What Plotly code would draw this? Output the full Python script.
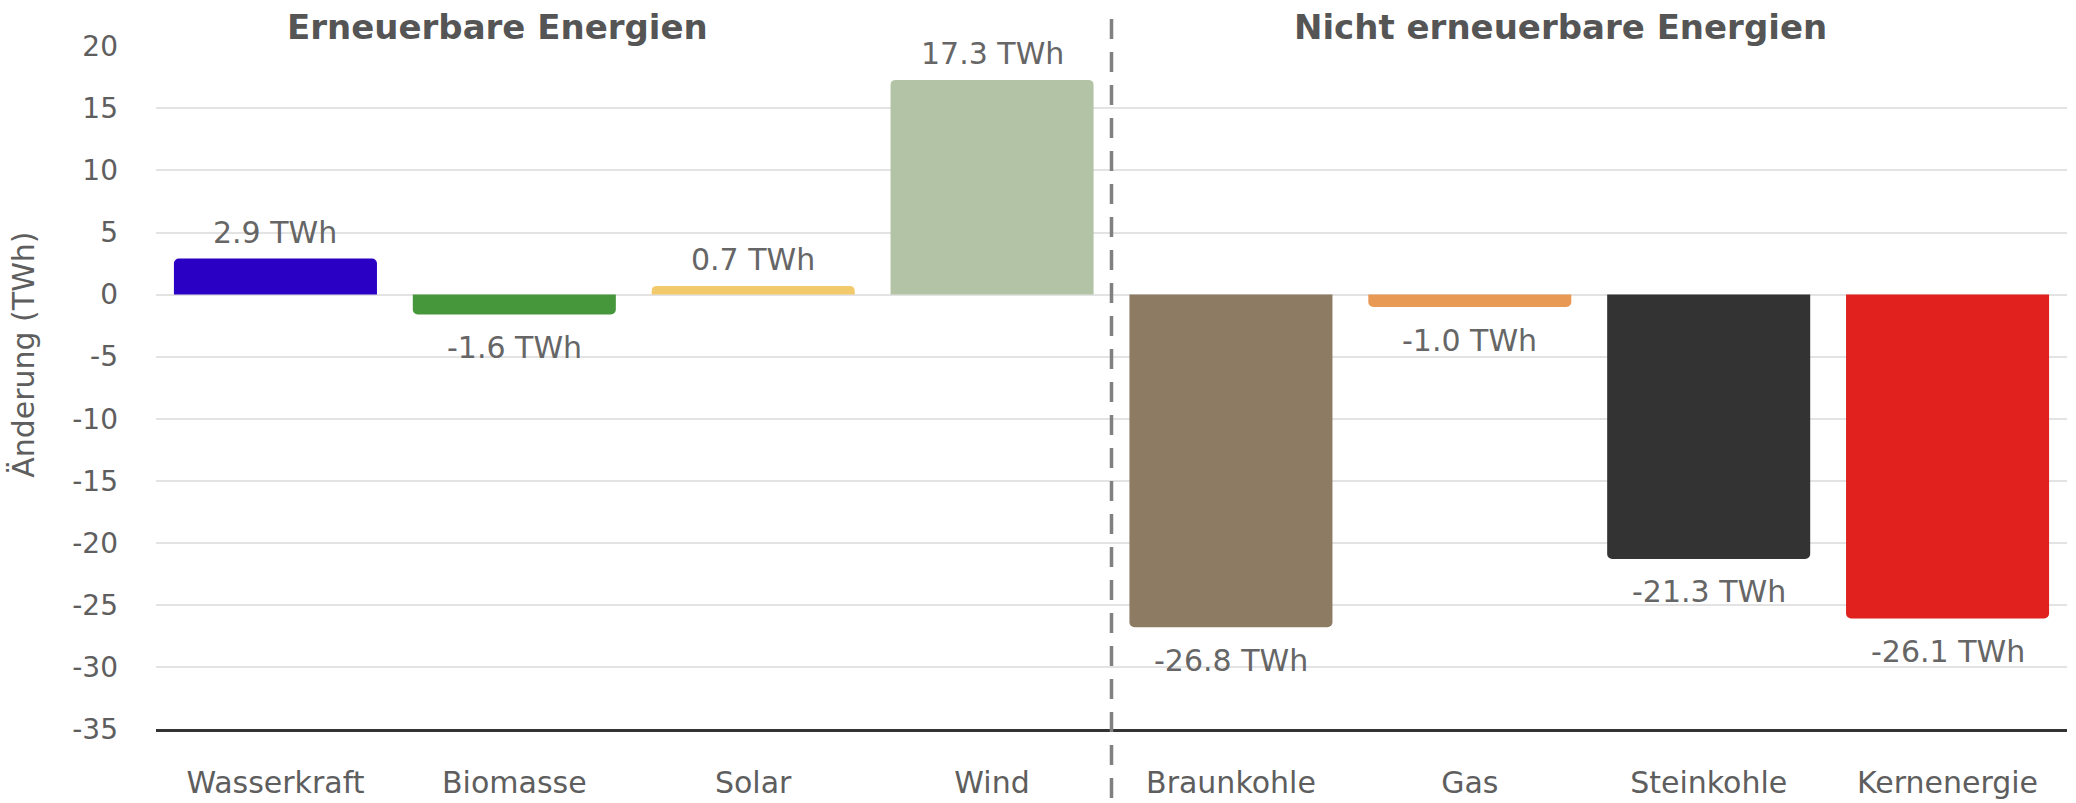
import plotly.graph_objects as go

categories = ["Wasserkraft", "Biomasse", "Solar", "Wind",
              "Braunkohle", "Gas", "Steinkohle", "Kernenergie"]
values = [2.9, -1.6, 0.7, 17.3, -26.8, -1.0, -21.3, -26.1]
colors = ["#2A00C4", "#46963C", "#F2C96B", "#B3C4A6",
          "#8D7C63", "#E89A55", "#333333", "#E0211D"]
labels = [f"{v:.1f} TWh" for v in values]
group_titles = ["Erneuerbare Energien", "Nicht erneuerbare Energien"]
group_title_x = [0.93, 5.38]
y_ticks = list(range(-35, 25, 5))
y_ticktext = [str(v) for v in y_ticks]

FONT = "DejaVu Sans, Verdana, sans-serif"
TXT = "#5E5E5E"

fig = go.Figure()
fig.add_trace(go.Bar(
    x=categories, y=values,
    marker=dict(color=colors, line=dict(width=0)),
    showlegend=False, hoverinfo="x+y",
))

for c, v, t in zip(categories, values, labels):
    fig.add_annotation(x=c, y=v, xref="x", yref="y", text=t, showarrow=False,
                       xanchor="center", yanchor="middle",
                       yshift=26 if v >= 0 else -33,
                       font=dict(family=FONT, size=30, color="#666666"))

for t, xpos in zip(group_titles, group_title_x):
    fig.add_annotation(x=xpos, xref="x", y=1.028, yref="paper",
                       text=f"<b>{t}</b>", showarrow=False,
                       xanchor="center", yanchor="middle",
                       font=dict(family=FONT, size=34, color="#555555"))

fig.add_annotation(x=-0.069, xref="paper", y=0.548, yref="paper",
                   text="Änderung (TWh)", textangle=-90, showarrow=False,
                   xanchor="center", yanchor="middle",
                   font=dict(family=FONT, size=30, color=TXT))

fig.add_shape(type="line", xref="x", yref="paper",
              x0=3.5, x1=3.5, y0=-0.101, y1=1.057,
              line=dict(color="#808080", width=3.5, dash="20px,13px"))

fig.update_layout(
    width=2076, height=803,
    margin=dict(l=156, r=9, t=46, b=74, autoexpand=False),
    paper_bgcolor="white", plot_bgcolor="white",
    bargap=0.15, barcornerradius=5,
    font=dict(family=FONT, size=29, color=TXT),
    xaxis=dict(showgrid=False, showline=True, linecolor="#333333", linewidth=2.5,
               ticks="", ticklabelstandoff=25,
               tickfont=dict(family=FONT, size=30, color=TXT)),
    yaxis=dict(range=[-35, 20.03], tickvals=y_ticks, ticktext=y_ticktext,
               showgrid=True, gridcolor="#E3E3E3", gridwidth=2, zeroline=True,
               zerolinecolor="#E3E3E3", zerolinewidth=2,
               ticks="", ticklabelstandoff=37,
               tickfont=dict(family=FONT, size=28, color=TXT)),
)

fig.write_html("out.html", config={"displayModeBar": False},
               post_script="document.body.style.margin='0';document.body.style.overflow='hidden';")
